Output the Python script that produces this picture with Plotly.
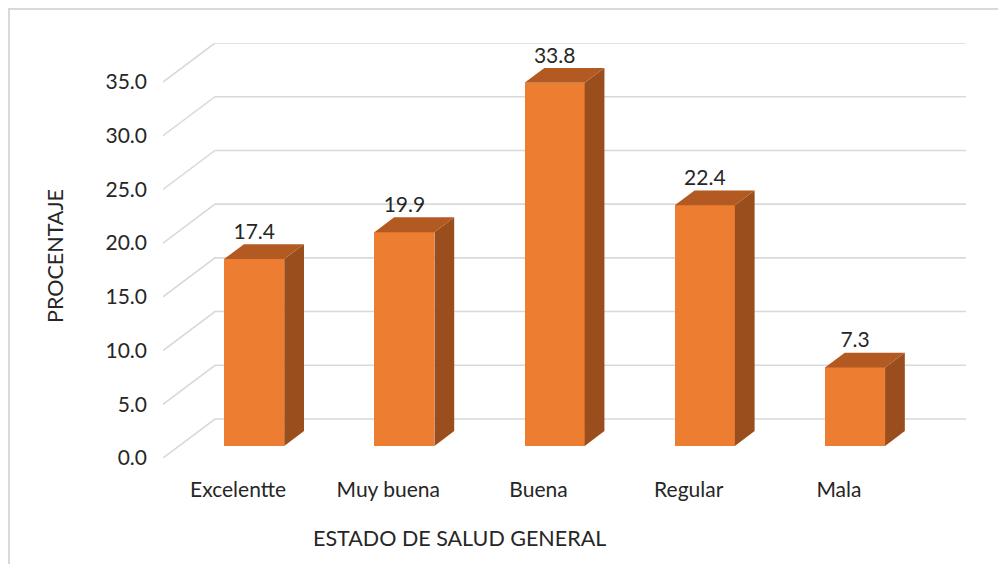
import plotly.graph_objects as go

categories = ["Excelentte", "Muy buena", "Buena", "Regular", "Mala"]
values = [17.4, 19.9, 33.8, 22.4, 7.3]
y_ticks = [0, 5, 10, 15, 20, 25, 30, 35]
y_tick_labels = ["0.0", "5.0", "10.0", "15.0", "20.0", "25.0", "30.0", "35.0"]
x_title = "ESTADO DE SALUD GENERAL"
y_title = "PROCENTAJE"

# 3D projection parameters (in axis units)
DX = 0.346   # full depth shift along x
DY = 3.63    # full depth shift along y
F0, F1 = 0.31, 0.69  # bar front/back depth fractions
BW = 0.40    # bar width

FRONT = "#ED7D31"
SIDE = "#9A4E1E"
TOP = "#B35A22"
GRID = "#d9d9d9"
TXT = "#262626"
FONT = "Lato"

# figure geometry (figure pixels; page adds an 8px body margin)
L, T, PW, PH = 155, 35, 803, 415
W, H = 990, 556

n = len(categories)
fig = go.Figure()

# gridlines: diagonal on the left + horizontal on back wall (below traces)
shapes = []
for v in y_ticks:
    shapes.append(dict(type="path", xref="x", yref="y", layer="below",
                       path=f"M 0,{v} L {DX},{v + DY} L {n + DX},{v + DY}",
                       line=dict(color=GRID, width=1.6)))

fx0 = F0 * DX
fy0 = F0 * DY
ddx = (F1 - F0) * DX
ddy = (F1 - F0) * DY

# front faces as bars
fig.add_trace(go.Bar(
    x=[i + 0.5 + fx0 for i in range(n)], y=values, base=[fy0] * n, width=BW,
    marker=dict(color=FRONT, line=dict(width=0)), showlegend=False, hoverinfo="skip"))

for i, v in enumerate(values):
    xl = i + 0.5 + fx0 - BW / 2
    xr = i + 0.5 + fx0 + BW / 2
    yb = fy0
    yt = fy0 + v
    # side face
    fig.add_trace(go.Scatter(
        x=[xr, xr + ddx, xr + ddx, xr, xr], y=[yb, yb + ddy, yt + ddy, yt, yb],
        fill="toself", fillcolor=SIDE, mode="lines", line=dict(width=0, color=SIDE),
        hoverinfo="skip", showlegend=False))
    # top face
    fig.add_trace(go.Scatter(
        x=[xl, xr, xr + ddx, xl + ddx, xl], y=[yt, yt, yt + ddy, yt + ddy, yt],
        fill="toself", fillcolor=TOP, mode="lines", line=dict(width=0, color=TOP),
        hoverinfo="skip", showlegend=False))

# value labels
fig.add_trace(go.Scatter(
    x=[i + 0.5 + fx0 for i in range(n)],
    y=[v + fy0 + ddy for v in values],
    text=[f"{v:.1f}" for v in values], mode="text", textposition="top center",
    textfont=dict(family=FONT, size=21, color=TXT),
    hoverinfo="skip", showlegend=False, cliponaxis=False))

shapes.append(dict(type="rect", xref="paper", yref="paper", layer="below",
                   x0=(1 - L) / PW, x1=(1100 - L) / PW,
                   y0=-(700 - (T + PH)) / PH, y1=(T + PH - 1) / PH,
                   line=dict(color="#d9d9d9", width=2)))

fig.update_layout(
    width=W, height=H,
    margin=dict(l=L, r=W - L - PW, t=T, b=H - T - PH),
    paper_bgcolor="white", plot_bgcolor="white",
    bargap=0,
    font=dict(family=FONT, size=21, color=TXT),
    xaxis=dict(range=[0, n + DX], tickvals=[i + 0.5 for i in range(n)],
               ticktext=categories, showgrid=False, zeroline=False,
               showline=False, ticks="", ticklabelstandoff=17,
               tickfont=dict(family=FONT, size=21, color=TXT)),
    yaxis=dict(range=[0, 35 + DY], tickvals=y_ticks, ticktext=y_tick_labels,
               showgrid=False, zeroline=False, showline=False, ticks="",
               ticklabelstandoff=15,
               tickfont=dict(family=FONT, size=21, color=TXT)),
    annotations=[
        dict(text=x_title, xref="paper", yref="paper", x=(451 - L) / PW,
             y=-(530 - (T + PH)) / PH, showarrow=False, xanchor="center",
             yanchor="middle", font=dict(family=FONT, size=21.5, color=TXT)),
        dict(text=y_title, xref="paper", yref="paper", x=-(L - 47) / PW,
             y=((T + PH) - 248) / PH, showarrow=False, textangle=-90,
             xanchor="center", yanchor="middle",
             font=dict(family=FONT, size=21.5, color=TXT)),
    ],
    shapes=shapes,
)

fig.write_html("out.html")
